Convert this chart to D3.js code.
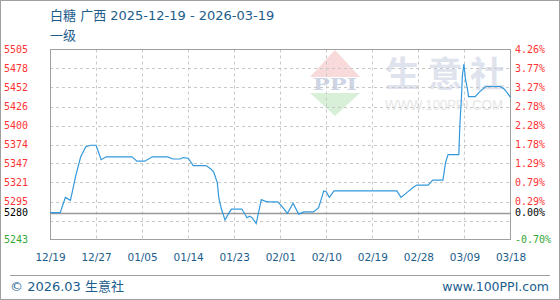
<!DOCTYPE html>
<html>
<head>
<meta charset="utf-8">
<script src="https://cdn.jsdelivr.net/npm/d3@7"></script>
<style>
  html, body { margin: 0; padding: 0; background: #fff; }
  svg { display: block; }
</style>
</head>
<body>
<svg id="chart" width="560" height="300"></svg>
<script>
// ---------- data ----------
const titleText = "白糖 广西 2025-12-19 - 2026-03-19";
const subTitle = "一级";
const baseValue = 5280;
const yMin = 5243, yMax = 5505;
const yTickValues = [5243, 5269.2, 5295.4, 5321.6, 5347.8, 5374, 5400.2, 5426.4, 5452.6, 5478.8, 5505];
const yTickLabels = ["5243", "", "5295", "5321", "5347", "5374", "5400", "5426", "5452", "5478", "5505"];
const pctTickLabels = ["-0.70%", "", "0.29%", "0.79%", "1.29%", "1.78%", "2.28%", "2.78%", "3.27%", "3.77%", "4.26%"];
const xTickDays = [0, 9, 18, 27, 36, 45, 54, 63, 72, 81, 90];
const xTickLabels = ["12/19", "12/27", "01/05", "01/14", "01/23", "02/01", "02/10", "02/19", "02/28", "03/09", "03/18"];

// day offset from 2025-12-19 and price (元/吨)
const dayOffset = [0, 2, 3, 4, 5, 6, 7, 8, 9, 10, 11, 16, 17, 18.5, 20, 23, 24, 25.5, 26, 27, 28, 30.5,
  31.5, 32, 32.7, 33, 33.5, 34.2, 35, 35.5, 37.5, 38.5, 39, 39.5, 40.3, 41.3, 42, 42.6, 44.5,
  45.3, 46.4, 47.5, 48.6, 49.6, 51.5, 52.5, 53.5, 54, 54.6, 55.5, 67.8, 68.6, 69.8, 71, 71.7,
  73.9, 74.8, 76.8, 77.3, 77.8, 79.9, 80.1, 80.4, 80.6, 80.9, 81.2, 81.6, 81.8, 83.1, 84, 85,
  85.3, 88, 88.7, 89.3, 90];
const price = [5280, 5280, 5301, 5297, 5330, 5357, 5371, 5373, 5373, 5353, 5357, 5357, 5351, 5351, 5357, 5357, 5354, 5354, 5356, 5355, 5345, 5345,
  5340, 5336, 5321, 5300, 5285, 5270, 5280, 5285, 5285, 5273, 5275, 5273, 5265, 5298, 5296, 5295, 5295,
  5289, 5279, 5293, 5278, 5281, 5281, 5287, 5310, 5309, 5301, 5310, 5310, 5301, 5308, 5315, 5318,
  5318, 5325, 5325, 5349, 5360, 5360, 5400, 5437, 5469, 5485, 5464, 5450, 5440, 5440, 5447, 5453,
  5454, 5454, 5451, 5446, 5439];

// ---------- layout ----------
const svg = d3.select("#chart");
const W = 560, H = 300;
const plot = { left: 50, right: 511, top: 49.5, bottom: 239.5 };
const blue = "#1c5d8c";
const red = "#ff3333";
const green = "#33aa33";
const numFont = "'DejaVu Sans Mono', monospace";
const sansFont = "'DejaVu Sans', 'Noto Sans CJK SC', sans-serif";

const x = d3.scaleLinear().domain([0, 90]).range([plot.left, plot.right - 0.5]);
const y = d3.scaleLinear().domain([yMin, yMax]).range([plot.bottom, plot.top]);

// outer frame
svg.append("rect").attr("x", 0.5).attr("y", 0.5).attr("width", W - 1).attr("height", H - 1)
  .attr("fill", "#fff").attr("stroke", "#a0a0a0");

// titles
svg.append("text").attr("x", 50).attr("y", 19.5).attr("fill", blue)
  .attr("font-family", sansFont).attr("font-size", 13).text(titleText);
svg.append("text").attr("x", 50).attr("y", 40).attr("fill", blue)
  .attr("font-family", sansFont).attr("font-size", 13).text(subTitle);

// watermark logo
const wm = svg.append("g");
wm.append("path").attr("d", "M310,77 L335,50 L360,77 Z").attr("fill", "#f8dada");
wm.append("path").attr("d", "M310,93 L360,93 L335,116 Z").attr("fill", "#d8f0d8");
wm.append("text").attr("x", 313).attr("y", 90).attr("textLength", 44).attr("lengthAdjust", "spacingAndGlyphs")
  .attr("font-family", "'DejaVu Serif', serif").attr("font-weight", "bold").attr("font-size", 17)
  .attr("fill", "#cdd4e4").text("PPI");
wm.append("text").attr("x", 385).attr("y", 87).attr("textLength", 120).attr("lengthAdjust", "spacing")
  .attr("font-family", "'Noto Sans CJK SC', sans-serif").attr("font-weight", "bold").attr("font-size", 35)
  .attr("fill", "#dfe3ed").text("生意社");
wm.append("text").attr("x", 385).attr("y", 110).attr("textLength", 118).attr("lengthAdjust", "spacingAndGlyphs")
  .attr("font-family", "'Liberation Sans', sans-serif").attr("font-size", 14)
  .attr("fill", "#e6e6e6").text("WWW.100PPI.COM");

// grid
const grid = svg.append("g").attr("stroke", "#c8c8c8").attr("stroke-dasharray", "3,3").attr("stroke-width", 1);
yTickValues.slice(1, -1).forEach(v => {
  if (Math.abs(v - baseValue) < 1) return;
  const yy = Math.round(y(v)) + 0.5;
  grid.append("line").attr("x1", plot.left).attr("x2", plot.right).attr("y1", yy).attr("y2", yy);
});
xTickDays.slice(1, -1).forEach(d => {
  const xx = Math.round(x(d)) + 0.5;
  grid.append("line").attr("x1", xx).attr("x2", xx).attr("y1", plot.top).attr("y2", plot.bottom);
});

// plot frame
svg.append("rect").attr("x", plot.left + 0.5).attr("y", plot.top).attr("width", plot.right - plot.left - 1)
  .attr("height", plot.bottom - plot.top).attr("fill", "none").attr("stroke", "#a0a0a0");

// baseline
const by = Math.round(y(baseValue)) + 0.5;
svg.append("line").attr("x1", plot.left).attr("x2", plot.right).attr("y1", by).attr("y2", by)
  .attr("stroke", "#999").attr("stroke-width", 1.5);

// left axis labels
const tickColor = (i, v) => v === yMin ? green : red;
const leftG = svg.append("g").attr("font-family", numFont).attr("font-size", 10);
yTickValues.forEach((v, i) => {
  if (!yTickLabels[i]) return;
  leftG.append("text").attr("x", 4).attr("y", y(v)).attr("dy", "0.35em")
    .attr("fill", tickColor(i, v)).text(yTickLabels[i]);
});
leftG.append("text").attr("x", 4).attr("y", y(baseValue)).attr("dy", "0.35em").attr("fill", "#000").text(String(baseValue));

// right axis labels
const rightG = svg.append("g").attr("font-family", numFont).attr("font-size", 10);
yTickValues.forEach((v, i) => {
  if (!pctTickLabels[i]) return;
  rightG.append("text").attr("x", 515).attr("y", y(v)).attr("dy", "0.35em")
    .attr("fill", tickColor(i, v)).text(pctTickLabels[i]);
});
rightG.append("text").attr("x", 515).attr("y", y(baseValue)).attr("dy", "0.35em").attr("fill", "#000").text("0.00%");

// x axis labels
const xAxis = d3.axisBottom(x).tickValues(xTickDays).tickFormat((d, i) => xTickLabels[i]).tickSize(0).tickPadding(0);
const xg = svg.append("g").attr("transform", `translate(0,${plot.bottom})`).call(xAxis);
xg.select(".domain").remove();
xg.selectAll("text").attr("font-family", sansFont).attr("font-size", 10.5).attr("fill", blue)
  .attr("y", 21.5).attr("dy", 0);

// price line
const pts = dayOffset.map((d, i) => [d, price[i]]);
svg.append("path").datum(pts)
  .attr("fill", "none").attr("stroke", "#3399dd").attr("stroke-width", 1.2)
  .attr("d", d3.line().x(d => x(d[0])).y(d => y(d[1])));

// footer
svg.append("line").attr("x1", 10).attr("x2", 550).attr("y1", 275.5).attr("y2", 275.5)
  .attr("stroke", "#a0a0a0");
svg.append("text").attr("x", 10).attr("y", 291).attr("fill", blue)
  .attr("font-family", sansFont).attr("font-size", 13).text("© 2026.03 生意社");
svg.append("text").attr("x", 549).attr("y", 291).attr("text-anchor", "end").attr("fill", blue)
  .attr("font-family", sansFont).attr("font-size", 12.5).text("www.100PPI.com");
</script>
</body>
</html>
